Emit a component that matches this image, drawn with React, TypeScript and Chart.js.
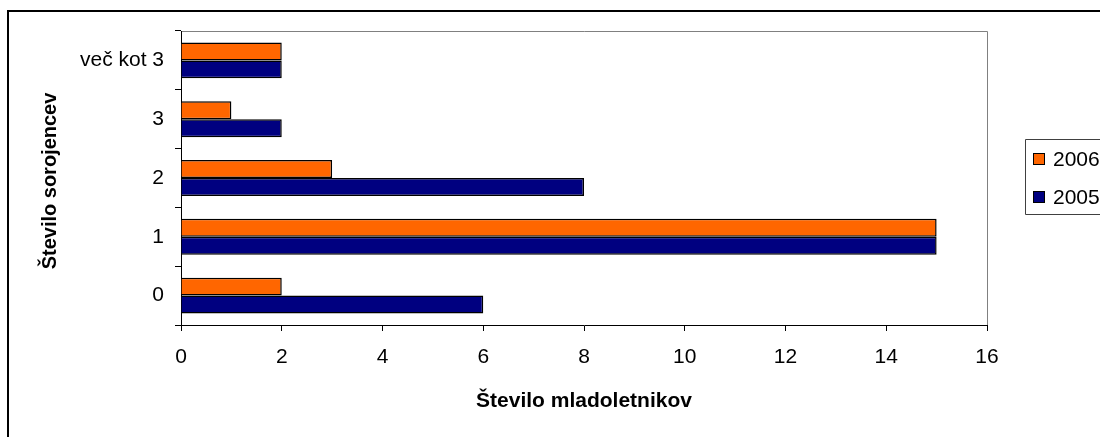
import React, { useEffect, useRef } from "react";
import { Chart, registerables } from "chart.js";

Chart.register(...registerables);

const categories = ["0", "1", "2", "3", "več kot 3"];
const seriesNames = ["2006", "2005"];
const values2006 = [2, 15, 3, 1, 2];
const values2005 = [6, 15, 8, 2, 2];
const seriesColors = ["#FF6600", "#000080"];
const xMin = 0;
const xMax = 16;
const xStep = 2;
const yTitle = "Število sorojencev";
const xTitle = "Število mladoletnikov";

const FONT = "'Liberation Sans', Arial, sans-serif";

const decorPlugin = {
  id: "decor",
  beforeDraw(chart: any) {
    const ctx = chart.ctx;
    ctx.save();
    ctx.fillStyle = "#ffffff";
    ctx.fillRect(0, 0, chart.width, chart.height);
    // outer chart border
    ctx.strokeStyle = "#000000";
    ctx.lineWidth = 2;
    ctx.beginPath();
    ctx.moveTo(8, chart.height + 5);
    ctx.lineTo(8, 11);
    ctx.lineTo(chart.width + 5, 11);
    ctx.stroke();
    // plot area top/right gray border
    const a = chart.chartArea;
    ctx.strokeStyle = "#808080";
    ctx.lineWidth = 1;
    ctx.beginPath();
    ctx.moveTo(a.left, a.top + 0.5);
    ctx.lineTo(a.right + 0.5, a.top + 0.5);
    ctx.lineTo(a.right + 0.5, a.bottom);
    ctx.stroke();
    ctx.restore();
  },
  afterDraw(chart: any) {
    const ctx = chart.ctx;
    ctx.save();
    // axis titles
    ctx.fillStyle = "#000000";
    ctx.font = `bold 21px ${FONT}`;
    ctx.textAlign = "center";
    ctx.textBaseline = "alphabetic";
    ctx.fillText(xTitle, 584, 407);
    ctx.font = `bold 20px ${FONT}`;
    ctx.translate(56, 181);
    ctx.rotate(-Math.PI / 2);
    ctx.fillText(yTitle, 0, 0);
    ctx.restore();

    // legend
    ctx.save();
    ctx.strokeStyle = "#404040";
    ctx.lineWidth = 1;
    ctx.fillStyle = "#ffffff";
    ctx.beginPath();
    ctx.rect(1025.5, 139.5, 200, 75);
    ctx.fill();
    ctx.stroke();
    const rows = [159, 197];
    chart.data.datasets.forEach((ds: any, i: number) => {
      const cy = rows[i];
      ctx.fillStyle = ds.backgroundColor;
      ctx.fillRect(1033, cy - 6, 12, 12);
      ctx.strokeStyle = "#000000";
      ctx.strokeRect(1033.5, cy - 5.5, 11, 11);
      ctx.fillStyle = "#000000";
      ctx.font = `21px ${FONT}`;
      ctx.textAlign = "left";
      ctx.textBaseline = "middle";
      ctx.fillText(ds.label, 1053, cy + 1);
    });
    ctx.restore();
  },
};

export default function App() {
  const ref = useRef<HTMLCanvasElement | null>(null);
  useEffect(() => {
    if (!ref.current) return;
    const chart = new Chart(ref.current, {
      type: "bar",
      data: {
        labels: categories,
        datasets: [
          {
            label: seriesNames[0],
            data: values2006,
            backgroundColor: seriesColors[0],
            borderColor: "#000000",
            borderWidth: 1.5,
            categoryPercentage: 0.61,
            barPercentage: 1,
          },
          {
            label: seriesNames[1],
            data: values2005,
            backgroundColor: seriesColors[1],
            borderColor: "#000000",
            borderWidth: 1.5,
            categoryPercentage: 0.61,
            barPercentage: 1,
          },
        ],
      },
      options: {
        indexAxis: "y",
        animation: false,
        responsive: false,
        maintainAspectRatio: false,
        layout: { padding: { left: 0, top: 31, right: 113, bottom: 0 } },
        plugins: {
          legend: { display: false },
          tooltip: { enabled: false },
          title: { display: false },
        },
        scales: {
          y: {
            type: "category",
            reverse: true,
            afterFit(scale: any) {
              scale.width = 181;
            },
            grid: {
              offset: true,
              drawOnChartArea: false,
              drawTicks: true,
              tickLength: 6,
              color: "#000000",
            },
            border: { display: true, color: "#000000", width: 1 },
            ticks: {
              color: "#000000",
              padding: 11,
              font: { family: FONT, size: 21 },
            },
          },
          x: {
            type: "linear",
            min: xMin,
            max: xMax,
            afterFit(scale: any) {
              scale.height = 112;
            },
            grid: {
              drawOnChartArea: false,
              drawTicks: true,
              tickLength: 6,
              color: "#000000",
            },
            border: { display: true, color: "#000000", width: 1 },
            ticks: {
              stepSize: xStep,
              color: "#000000",
              padding: 14,
              font: { family: FONT, size: 21 },
            },
          },
        },
      },
      plugins: [decorPlugin],
    } as any);
    return () => chart.destroy();
  }, []);
  return (
    <div style={{ position: "absolute", left: 0, top: 0, width: 1100, height: 437, background: "#fff" }}>
      <canvas ref={ref} width={1100} height={437} style={{ display: "block" }} />
    </div>
  );
}
